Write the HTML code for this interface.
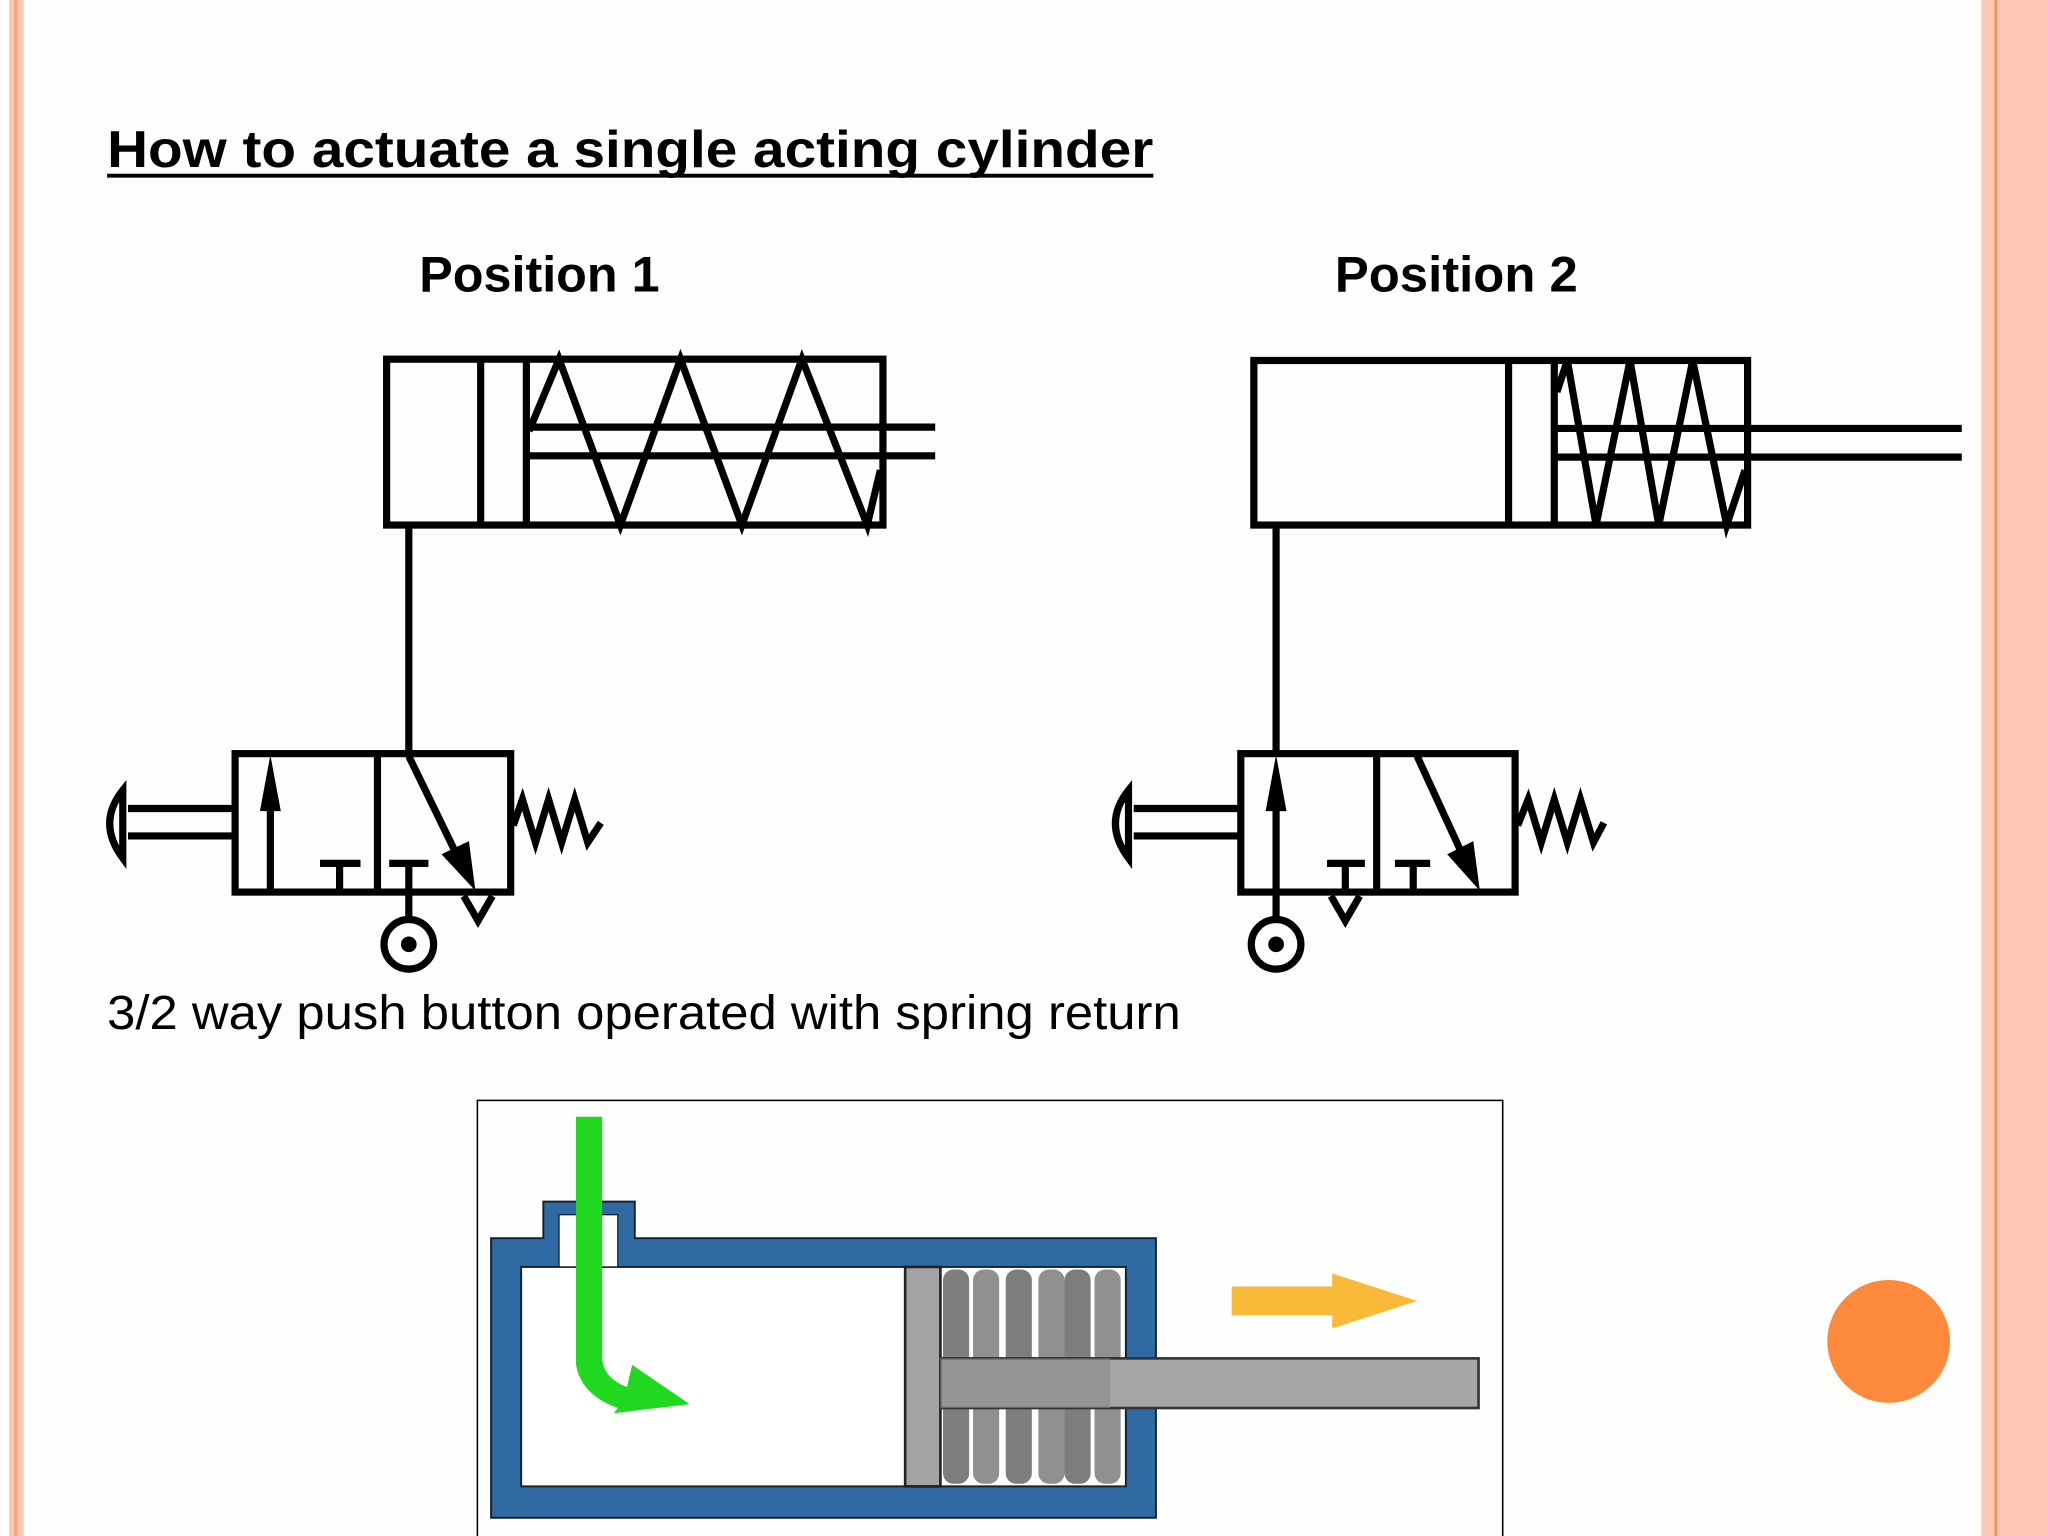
<!DOCTYPE html>
<html><head><style>
html,body{margin:0;padding:0;background:#fdfefc;}
svg{display:block;}
text{font-family:"Liberation Sans",Arial,sans-serif;}
</style></head><body>
<svg width="2048" height="1536" viewBox="0 0 1568 1176" xmlns="http://www.w3.org/2000/svg">
<rect width="1568" height="1176" fill="#fdfefc"/>
<rect x="7" y="0" width="11" height="1176" fill="#fcc6b2"/>
<rect x="11" y="0" width="2" height="1176" fill="#f6a07e"/>
<rect x="1517" y="0" width="51" height="1176" fill="#fcc8b4"/>
<rect x="1527" y="0" width="2" height="1176" fill="#f7935e"/>
<circle cx="1446" cy="1027" r="47" fill="#fd8a3c"/>

<text x="82" y="128" font-size="40" font-weight="bold" fill="#000" textLength="801" lengthAdjust="spacingAndGlyphs">How to actuate a single acting cylinder</text>
<rect x="82" y="133" width="801" height="3" fill="#000"/>
<text x="321" y="223" font-size="38" font-weight="bold" textLength="184" lengthAdjust="spacingAndGlyphs">Position 1</text>
<text x="1022" y="223" font-size="38" font-weight="bold" textLength="186" lengthAdjust="spacingAndGlyphs">Position 2</text>
<text x="82" y="788" font-size="37" textLength="822" lengthAdjust="spacingAndGlyphs">3/2 way push button operated with spring return</text>

<g fill="none" stroke="#000" stroke-width="5.5" stroke-linejoin="miter">
<rect x="296" y="275" width="380" height="127"/>
<line x1="368" y1="275" x2="368" y2="402"/>
<line x1="403" y1="275" x2="403" y2="402"/>
<polyline points="405,330 428,275 475,402 521,275 568,402 614,275 664,402 674,360"/>
<line x1="405" y1="327" x2="716" y2="327"/>
<line x1="405" y1="349" x2="716" y2="349"/>
<line x1="313" y1="402" x2="313" y2="577"/>
<rect x="180" y="577" width="211" height="106"/>
<line x1="289" y1="577" x2="289" y2="683"/>
<line x1="207" y1="683" x2="207" y2="610"/>
<line x1="245" y1="661" x2="276" y2="661"/><line x1="260" y1="661" x2="260" y2="683"/>
<line x1="298" y1="661" x2="328" y2="661"/><line x1="313" y1="661" x2="313" y2="703"/>
<circle cx="313" cy="723" r="19"/>
<line x1="313" y1="579" x2="350" y2="655"/>
<polyline points="355,686 366,705 377,686"/>
<line x1="98" y1="619" x2="180" y2="619"/>
<line x1="98" y1="640" x2="180" y2="640"/>
<path d="M94,605 Q74,630 94,657 Z"/>
<polyline points="393,632 400,612 410,645 420,612 430,645 440,612 450,645 460,630"/>

<rect x="960" y="276" width="378" height="126"/>
<line x1="1155" y1="276" x2="1155" y2="402"/>
<line x1="1190" y1="276" x2="1190" y2="402"/>
<polyline points="1192,300 1200,276 1222,402 1248,276 1270,402 1296,276 1322,402 1336,360"/>
<line x1="1192" y1="328" x2="1502" y2="328"/>
<line x1="1192" y1="350" x2="1502" y2="350"/>
<line x1="977" y1="402" x2="977" y2="577"/>
<rect x="950" y="577" width="210" height="106"/>
<line x1="1054" y1="577" x2="1054" y2="683"/>
<line x1="977" y1="703" x2="977" y2="610"/>
<circle cx="977" cy="723" r="19"/>
<line x1="1016" y1="661" x2="1045" y2="661"/><line x1="1030" y1="661" x2="1030" y2="683"/>
<line x1="1068" y1="661" x2="1095" y2="661"/><line x1="1082" y1="661" x2="1082" y2="683"/>
<line x1="1085" y1="579" x2="1120" y2="655"/>
<polyline points="1019,686 1030,705 1041,686"/>
<line x1="868" y1="619" x2="950" y2="619"/>
<line x1="868" y1="640" x2="950" y2="640"/>
<path d="M864,605 Q844,630 864,657 Z"/>
<polyline points="1162,632 1170,612 1180,645 1190,612 1200,645 1210,612 1220,645 1228,630"/>
</g>
<g fill="#000">
<polygon points="207,578 199,621 215,621"/>
<circle cx="313" cy="723" r="6"/>
<polygon points="364,682 338,654 359,644"/>
<polygon points="977,578 969,621 985,621"/>
<circle cx="977" cy="723" r="6"/>
<polygon points="1133,682 1108,654 1128,644"/>
</g>

<rect x="365.5" y="842.5" width="785" height="340" fill="#fdfefd" stroke="#000" stroke-width="1.2"/>
<path d="M376,948 H416 V920 H486 V948 H885 V1162 H376 Z" fill="#2f6ba2" stroke="#123" stroke-width="1.5"/>
<rect x="399" y="970" width="463" height="168" fill="#fff" stroke="#123" stroke-width="1.5"/>
<rect x="428" y="930" width="45" height="40" fill="#fff" stroke="#123" stroke-width="1"/>
<g fill="#7d7d7d">
<rect x="722" y="972" width="20" height="164" rx="8"/>
<rect x="770" y="972" width="20" height="164" rx="8"/>
<rect x="815" y="972" width="20" height="164" rx="8"/>
<rect x="745" y="972" width="20" height="164" rx="8" opacity=".85"/>
<rect x="795" y="972" width="20" height="164" rx="8" opacity=".85"/>
<rect x="838" y="972" width="20" height="164" rx="8" opacity=".85"/>
</g>
<rect x="693" y="970" width="27" height="168" fill="#a3a3a3" stroke="#222" stroke-width="2"/>
<rect x="720" y="1040" width="412" height="38" fill="#a6a6a6" stroke="#333" stroke-width="2"/>
<rect x="720" y="1040" width="130" height="38" fill="#8a8a8a" opacity=".6"/>
<path d="M943,985 H1020 V975 L1085,996 L1020,1017 V1007 H943 Z" fill="#f9b938"/>
<path d="M441,855 H461 V1040 Q462,1055 480,1062 L484,1045 L528,1075 L470,1082 L473,1078 Q445,1068 441,1045 Z" fill="#1fd81f"/>
</svg>
</body></html>
